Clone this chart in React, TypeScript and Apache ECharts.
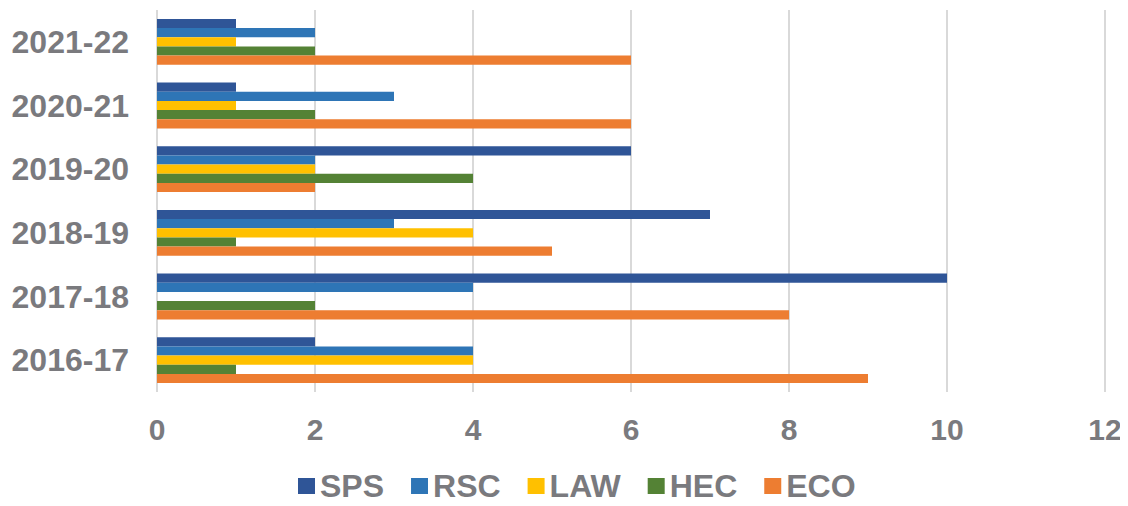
import React, { useEffect, useRef } from "react";
import * as echarts from "echarts";

const categories = ["2016-17", "2017-18", "2018-19", "2019-20", "2020-21", "2021-22"];
const seriesNames = ["SPS", "RSC", "LAW", "HEC", "ECO"];
const sps = [2, 10, 7, 6, 1, 1];
const rsc = [4, 4, 3, 2, 3, 2];
const law = [4, 0, 4, 2, 1, 1];
const hec = [1, 2, 1, 4, 2, 2];
const eco = [9, 8, 5, 2, 6, 6];
const xTicks = [0, 2, 4, 6, 8, 10, 12];

const colors: Record<string, string> = {
  SPS: "#2F5597",
  RSC: "#2E75B6",
  LAW: "#FFC000",
  HEC: "#548235",
  ECO: "#ED7D31",
};

export default function App() {
  const ref = useRef<HTMLDivElement>(null);
  useEffect(() => {
    if (!ref.current) return;
    const chart = echarts.init(ref.current, null, { renderer: "svg" });
    const values: Record<string, number[]> = { SPS: sps, RSC: rsc, LAW: law, HEC: hec, ECO: eco };
    chart.setOption({
      animation: false,
      textStyle: { fontFamily: "Liberation Sans, Arial, sans-serif" },
      grid: { left: 157, right: 23, top: 10, bottom: 114, containLabel: false },
      legend: {
        data: seriesNames,
        top: 470,
        left: 298,
        padding: 0,
        itemWidth: 17,
        itemHeight: 16,
        itemGap: 27,
        icon: "rect",
        textStyle: { fontSize: 32, fontWeight: "bold", color: "#7a7a7e" },
      },
      xAxis: {
        type: "value",
        min: xTicks[0],
        max: xTicks[xTicks.length - 1],
        interval: 2,
        axisLine: { show: false },
        axisTick: { show: false },
        splitLine: { show: true, lineStyle: { color: "#d9d9d9", width: 2 } },
        axisLabel: { fontSize: 30, fontWeight: "bold", color: "#7a7a7e", margin: 22 },
      },
      yAxis: {
        type: "category",
        data: categories,
        axisLine: { show: false },
        axisTick: { show: false },
        axisLabel: { fontSize: 32, fontWeight: "bold", color: "#7a7a7e", margin: 28 },
      },
      series: seriesNames.map((name) => ({
        name,
        type: "bar",
        data: values[name],
        itemStyle: { color: colors[name] },
        barGap: "0%",
        barCategoryGap: "28%",
      })),
    });
    return () => chart.dispose();
  }, []);
  return <div ref={ref} style={{ width: 1128, height: 506, margin: -8 }} />;
}
